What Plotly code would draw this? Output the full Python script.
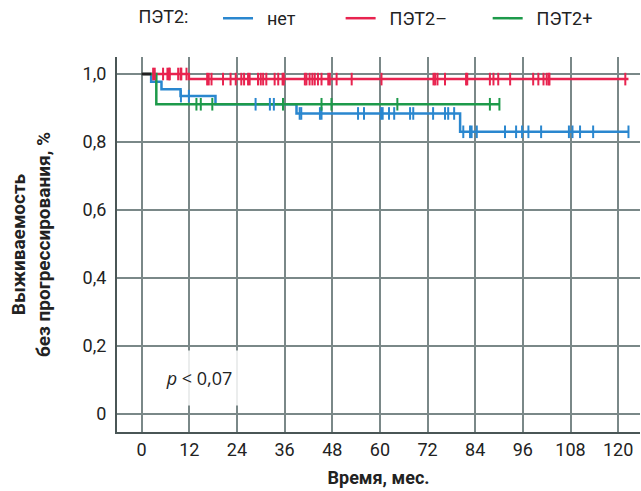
import numpy as np
import plotly.graph_objects as go

# ---- data ----
x_ticks = [0, 12, 24, 36, 48, 60, 72, 84, 96, 108, 120]
y_ticks = [0, 0.2, 0.4, 0.6, 0.8, 1.0]
y_ticktext = ["0", "0,2", "0,4", "0,6", "0,8", "1,0"]

# step curves (time in months, survival)
net_t = [0, 2.4, 5.0, 9.8, 18.6, 39.0, 80.2, 122.6]
net_s = [1.0, 0.977, 0.955, 0.935, 0.911, 0.884, 0.830, 0.830]
net_cens = [9.9, 11.9, 28.7, 32.3, 33.3, 39.8, 40.2, 44.9, 45.3, 54.5, 56.0, 60.3, 60.7,
            62.3, 63.6, 67.6, 68.4, 73.4, 76.4, 77.2, 78.7, 81.0, 82.7, 83.1, 84.4, 91.5,
            94.3, 95.8, 97.4, 100.6, 107.6, 108.5, 110.4, 113.7, 122.6]

neg_t = [0, 11.9, 122.6]
neg_s = [1.0, 0.985, 0.985]
neg_cens = [2.9, 3.3, 5.4, 6.5, 6.9, 7.1, 9.2, 9.8, 10.0, 11.3, 16.5, 16.9, 17.6, 20.5,
            22.4, 23.7, 25.1, 25.8, 26.8, 27.2, 29.3, 30.0, 30.6, 31.4, 33.5, 34.4, 35.5,
            35.8, 41.1, 41.5, 42.3, 43.0, 43.6, 44.4, 45.3, 47.0, 47.4, 49.1, 52.9, 60.4,
            73.5, 73.9, 74.5, 76.4, 81.7, 82.0, 87.7, 88.6, 89.8, 92.8, 98.6, 99.9, 101.2,
            102.0, 102.5, 102.7, 121.8]

pos_t = [0, 3.7, 90.2]
pos_s = [1.0, 0.911, 0.911]
pos_cens = [13.8, 14.9, 17.8, 35.6, 45.3, 47.8, 64.4, 87.7, 90.1]

common_t = [0, 2.4]
common_s = [1.0, 1.0]

BLUE = "#2a87cf"
RED = "#e8234f"
GREEN = "#1d9a4a"
NB = "\u00a0"
TRAIL = [9, 8, 0]


def surv_at(t_arr, s_arr, times):
    idx = np.searchsorted(np.array(t_arr), np.array(times), side="right") - 1
    return [s_arr[i] for i in idx]


fig = go.Figure()

series = [
    ("нет", net_t, net_s, net_cens, BLUE),
    ("ПЭТ2–", neg_t, neg_s, neg_cens, RED),
    ("ПЭТ2+", pos_t, pos_s, pos_cens, GREEN),
]
for i, (name, t, s, c, col) in enumerate(series):
    label = NB * 2 + name + NB * TRAIL[i]
    fig.add_trace(go.Scatter(x=t, y=s, mode="lines", line=dict(color=col, width=2.5, shape="hv"),
                             name=label, legendgroup=name, showlegend=True))
for name, t, s, c, col in series:
    fig.add_trace(go.Scatter(x=c, y=surv_at(t, s, c), mode="markers",
                             marker=dict(symbol="line-ns-open", size=9, color=col,
                                         line=dict(color=col, width=2)),
                             legendgroup=name, showlegend=False, hoverinfo="skip"))

fig.add_trace(go.Scatter(x=common_t, y=common_s, mode="lines",
                         line=dict(color="#222222", width=2.5), showlegend=False))

fig.add_annotation(x=14.4, y=0.106, xref="x", yref="y", text="<i>p</i> < 0,07",
                   showarrow=False, font=dict(family="Open Sans", size=18, color="#222"),
                   bgcolor="rgba(255,255,255,0.85)", width=78, height=52)

grid_col = "#7a8888"
axis_col = "#4a5656"
fig.update_xaxes(range=[-6.2, 125.5], tickvals=x_ticks, showgrid=True, gridcolor=grid_col,
                 gridwidth=1.5, showline=True, linecolor=axis_col, linewidth=2,
                 zeroline=False, ticks="", ticklabelstandoff=0,
                 tickfont=dict(family="Roboto", size=18, color="#222"),
                 title=dict(text=NB * 3 + "<b>Время, мес.</b>", standoff=13,
                            font=dict(family="Roboto", size=18, color="#222")))
fig.update_yaxes(range=[-0.053, 1.05], tickvals=y_ticks, ticktext=y_ticktext, showgrid=True,
                 gridcolor=grid_col, gridwidth=1.5, showline=True, linecolor=axis_col,
                 linewidth=2, zeroline=False, ticks="", ticklabelstandoff=5,
                 tickfont=dict(family="Roboto", size=18, color="#222"),
                 title=dict(text="<b>Выживаемость<br>без прогрессирования, %</b>", standoff=27,
                            font=dict(family="Roboto", size=19, color="#222")))

fig.update_layout(
    width=641, height=491,
    margin=dict(l=117, r=1, t=57, b=59, autoexpand=False),
    plot_bgcolor="white", paper_bgcolor="white",
    legend=dict(orientation="h", xref="container", yref="container", x=0.213, y=1.0,
                xanchor="left", yanchor="top",
                title=dict(text="ПЭТ2:" + NB * 4 + "\u2009",
                           font=dict(family="Roboto", size=18, color="#222")),
                font=dict(family="Roboto", size=18, color="#222"),
                traceorder="normal", itemwidth=30),
)

fig.write_html("out.html", config={"displayModeBar": False},
               post_script="document.body.style.margin='0';")
